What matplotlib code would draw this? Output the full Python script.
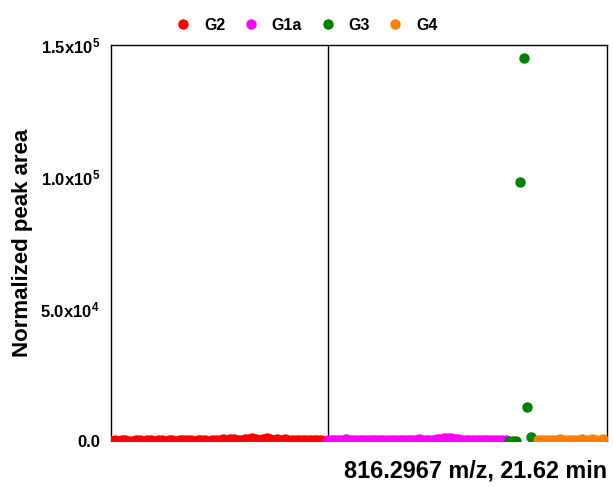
import numpy as np
import matplotlib
matplotlib.use('Agg')
import matplotlib.pyplot as plt

# ── data: normalized peak area per sample, grouped ───────────────────────────
g2_vals = [150, 300, 120, 250, 400, 180, 90, 320, 260, 140,
           380, 210, 100, 290, 350, 170, 230, 410, 130, 270,
           190, 360, 240, 110, 300, 450, 200, 160, 340, 280,
           520, 700, 380, 600, 850, 450, 300, 900, 750, 1000,
           620, 480, 800, 950, 560, 400, 700, 350, 600, 420,
           300, 500, 250, 380, 200, 450, 330, 260, 400, 180]
g1a_vals = [200, 350, 500, 280, 420, 600, 330, 250, 480, 380,
            300, 550, 420, 260, 390, 500, 310, 450, 280, 360,
            420, 520, 300, 380, 460, 600, 350, 280, 420, 500,
            650, 900, 1100, 1200, 1000, 850, 600, 480, 380, 520,
            400, 300, 450, 360, 280, 420, 330, 500, 380, 300]
g3_vals = [0, 0, 0, 98000, 145000, 13000, 1500, 0]
g4_vals = [300, 450, 380, 520, 400, 350, 600, 480, 420, 550,
           380, 500, 620, 450, 400, 560, 480, 520, 600]

groups = ['G2', 'G1a', 'G3', 'G4']
group_vals = [g2_vals, g1a_vals, g3_vals, g4_vals]
group_colors = ['#FF0000', '#FF00FF', '#008000', '#FF8000']

yticks = [0, 5e4, 1e5, 1.5e5]
ytick_labels = ['0.0', r'5.0x10$^{4}$', r'1.0x10$^{5}$', r'1.5x10$^{5}$']

plt.rcParams.update({
    'font.family': 'Liberation Sans',
    'font.weight': 'bold',
    'mathtext.fontset': 'custom',
    'mathtext.rm': 'Liberation Sans:bold',
    'mathtext.bf': 'Liberation Sans:bold',
    'mathtext.it': 'Liberation Sans:bold',
})

fig = plt.figure(figsize=(6.13, 4.87), dpi=100)
ax = fig.add_axes([0.181, 0.0945, 0.809, 0.8135])

start = 0
for name, vals, col in zip(groups, group_vals, group_colors):
    x = np.arange(start, start + len(vals))
    ax.plot(x, vals, ls='', marker='o', ms=6.5, color=col, mec=col,
            label=name, clip_on=True, zorder=3)
    start += len(vals)

n_g2 = len(g2_vals)
ax.axvline(n_g2, color='black', lw=1.0, zorder=2)

ax.set_xlim(0, start)
ax.set_ylim(0, 1.5e5)
ax.set_xticks([])
ax.set_yticks(yticks)
ax.set_yticklabels(ytick_labels, fontsize=12, fontweight='bold')
ax.tick_params(axis='y', length=0, pad=8)
ax.spines['bottom'].set_visible(False)
for s in ['left', 'right', 'top']:
    ax.spines[s].set_linewidth(1.0)

ax.set_ylabel('Normalized peak area', fontsize=16, fontweight='bold')
ax.yaxis.set_label_coords(-0.157, 0.5)
fig.text(0.99, 0.033, '816.2967 m/z, 21.62 min', ha='right', va='center',
         fontsize=16.8, fontweight='bold')

fig.legend(loc='upper center', bbox_to_anchor=(0.5, 0.993), ncol=4,
           frameon=False, fontsize=11.5, handletextpad=0.8, columnspacing=1.1,
           markerscale=1.0, handlelength=1.0)

fig.savefig('out.png', dpi=100)
